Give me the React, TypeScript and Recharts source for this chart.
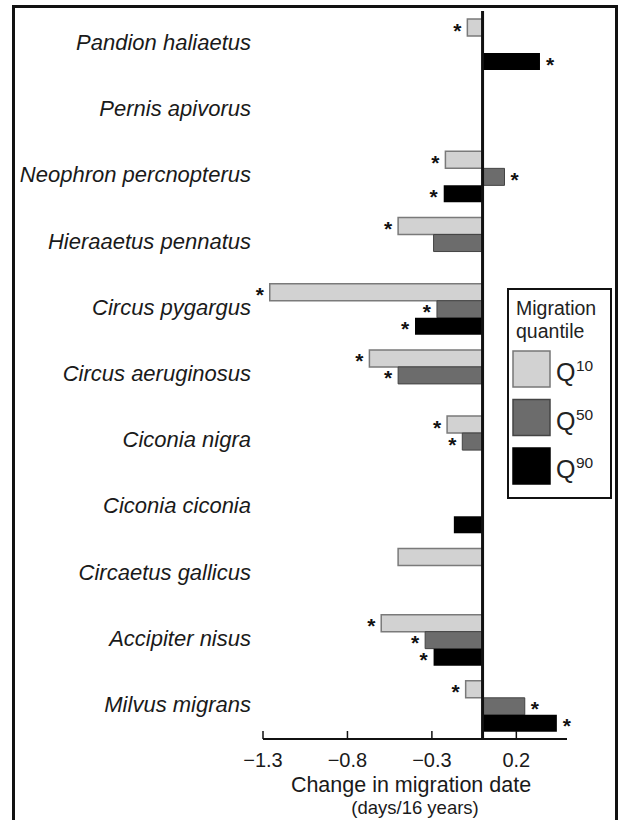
import React from "react";
import {
  BarChart,
  Bar,
  XAxis,
  YAxis,
  ReferenceLine,
  LabelList,
  Legend,
} from "recharts";

const FONT = "'Liberation Sans', Arial, Helvetica, sans-serif";

const species = [
  "Pandion haliaetus",
  "Pernis apivorus",
  "Neophron percnopterus",
  "Hieraaetus pennatus",
  "Circus pygargus",
  "Circus aeruginosus",
  "Ciconia nigra",
  "Ciconia ciconia",
  "Circaetus gallicus",
  "Accipiter nisus",
  "Milvus migrans",
];

// change in migration date (days/16 years), null = no bar
const q10 = [-0.09, null, -0.22, -0.5, -1.26, -0.67, -0.21, null, -0.5, -0.6, -0.1];
const q50 = [null, null, 0.13, -0.29, -0.27, -0.5, -0.12, null, null, -0.34, 0.25];
const q90 = [0.34, null, -0.23, null, -0.4, null, null, -0.17, null, -0.29, 0.44];

// significance stars
const sig10 = [true, false, true, true, true, true, true, false, false, true, true];
const sig50 = [false, false, true, false, true, true, true, false, false, true, true];
const sig90 = [true, false, true, false, true, false, false, false, false, true, true];

const xTicks = [-1.3, -0.8, -0.3, 0.2];

// star keys hold the bar value only where the change is significant
const data = species.map((name, i) => ({
  name,
  q10: q10[i],
  q50: q50[i],
  q90: q90[i],
  st10: sig10[i] ? q10[i] : null,
  st50: sig50[i] ? q50[i] : null,
  st90: sig90[i] ? q90[i] : null,
}));

const fmt = (v: number) =>
  v < 0 ? "\u2212" + Math.abs(v).toFixed(1) : v.toFixed(1);

const StarLabel = (props: any) => {
  const vb = props.viewBox || {};
  const x = props.x ?? vb.x;
  const y = props.y ?? vb.y;
  const width = props.width ?? vb.width;
  const height = props.height ?? vb.height;
  const { value } = props;
  if (value == null || value === "") return null;
  const left = Math.min(x, x + width);
  const right = Math.max(x, x + width);
  const cx = Number(value) < 0 ? left - 10 : right + 10;
  return (
    <text
      x={cx}
      y={y + height / 2 + 10}
      textAnchor="middle"
      fontSize={21}
      fontWeight="bold"
      fontFamily={FONT}
      fill="#111"
    >
      *
    </text>
  );
};

const YTick = (props: any) => {
  const { x, y, payload } = props;
  return (
    <text
      x={x}
      y={y + 6}
      textAnchor="end"
      fontSize={22}
      fontStyle="italic"
      fontFamily={FONT}
      fill="#1a1a1a"
    >
      {payload.value}
    </text>
  );
};

const XTick = (props: any) => {
  const { x, y, payload } = props;
  return (
    <g>
      <line x1={x} x2={x} y1={y} y2={y - 8} stroke="#111" strokeWidth={1.5} />
      <text
        x={x}
        y={y + 28}
        textAnchor="middle"
        fontSize={20}
        fontFamily={FONT}
        fill="#1a1a1a"
      >
        {fmt(payload.value)}
      </text>
    </g>
  );
};

const AxisTitle = (props: any) => {
  const vb = props.viewBox;
  const cx = vb.x + vb.width / 2;
  return (
    <g fontFamily={FONT} fill="#1a1a1a">
      <text x={cx - 4} y={vb.y + 53} textAnchor="middle" fontSize={21.5}>
        Change in migration date
      </text>
      <text x={cx} y={vb.y + 75} textAnchor="middle" fontSize={18.5}>
        (days/16 years)
      </text>
    </g>
  );
};

const LegendBox = (props: any) => {
  const items = props.payload || [];
  return (
    <div
      style={{
        width: 105,
        height: 211,
        border: "2px solid #111",
        boxSizing: "border-box",
        background: "#fff",
      }}
    >
      <svg width={101} height={207} fontFamily={FONT}>
        <text x={7} y={25} fontSize={19.5} fill="#222">
          Migration
        </text>
        <text x={7} y={48} fontSize={19.5} fill="#222">
          quantile
        </text>
        {items.map((it: any, i: number) => {
          const top = 61 + i * 48.5;
          const label = String(it.value);
          return (
            <g key={label}>
              <rect
                x={4}
                y={top}
                width={37}
                height={36}
                fill={it.color}
                stroke={i === 0 ? "#777" : i === 1 ? "#444" : "#000"}
                strokeWidth={1.5}
              />
              <text x={47} y={top + 30} fontSize={25} fill="#222">
                {label.slice(0, 1)}
              </text>
              <text x={67} y={top + 20} fontSize={15.5} fill="#222">
                {label.slice(1)}
              </text>
            </g>
          );
        })}
      </svg>
    </div>
  );
};

export default function App() {
  return (
    <>
      <div
        style={{
          position: "absolute",
          left: 12,
          top: 5,
          width: 606,
          height: 815,
          border: "3px solid #111",
          borderBottom: "none",
          boxSizing: "border-box",
          background: "#fff",
        }}
      />
      <div style={{ position: "absolute", left: 0, top: 0 }}>
        <BarChart
          width={618}
          height={820}
          data={data}
          layout="vertical"
          margin={{ top: 11, right: 51, left: 0, bottom: 21 }}
          barCategoryGap={8}
          barGap={0}
        >
          <XAxis
            type="number"
            domain={[-1.3, 0.5]}
            ticks={xTicks}
            allowDataOverflow
            height={60}
            axisLine={{ stroke: "#111", strokeWidth: 2 }}
            tickLine={false}
            tickSize={0}
            tickMargin={0}
            tick={<XTick />}
            label={<AxisTitle />}
          />
          <YAxis
            type="category"
            dataKey="name"
            width={263}
            axisLine={false}
            tickLine={false}
            tickSize={0}
            tickMargin={12}
            interval={0}
            tick={<YTick />}
          />
          <Legend
            layout="horizontal"
            verticalAlign="middle"
            align="center"
            content={<LegendBox />}
            wrapperStyle={{ left: 507, top: 288, width: 105, height: 211 }}
          />
          <Bar
            dataKey="q10"
            name="Q10"
            fill="#d2d2d2"
            stroke="#7a7a7a"
            strokeWidth={1.5}
            isAnimationActive={false}
          >
            <LabelList dataKey="st10" content={<StarLabel />} />
          </Bar>
          <Bar
            dataKey="q50"
            name="Q50"
            fill="#6c6c6c"
            stroke="#444"
            strokeWidth={1}
            isAnimationActive={false}
          >
            <LabelList dataKey="st50" content={<StarLabel />} />
          </Bar>
          <Bar
            dataKey="q90"
            name="Q90"
            fill="#000"
            isAnimationActive={false}
          >
            <LabelList dataKey="st90" content={<StarLabel />} />
          </Bar>
          <ReferenceLine x={0} stroke="#111" strokeWidth={3} />
        </BarChart>
      </div>
    </>
  );
}
